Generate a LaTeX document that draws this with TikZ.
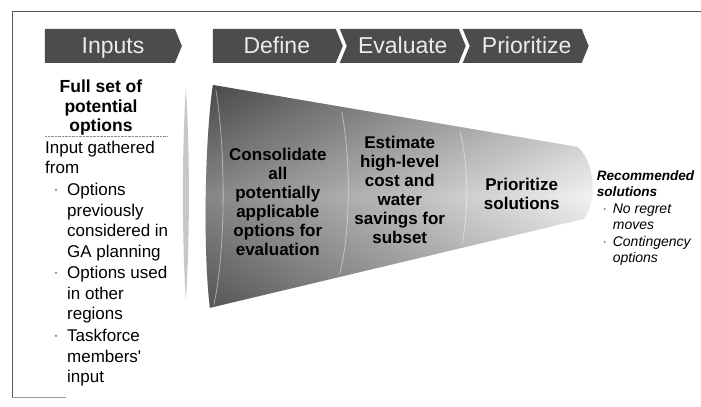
\documentclass[tikz,border=0pt]{standalone}
\usepackage{fontspec}
\setmainfont{Liberation Sans}
\begin{document}
\begin{tikzpicture}[x=1pt, y=-1pt,
  stage/.style={fill=black!70},
  stagetext/.style={text=black!8, font=\fontsize{23}{26}\selectfont, inner sep=0pt, anchor=base},
  title/.style={font=\fontsize{17.5}{19.5}\selectfont\bfseries, align=center, inner sep=0pt},
  body/.style={font=\fontsize{17}{20.5}\selectfont, align=left, inner sep=0pt, anchor=base west},
  dot/.style={circle, fill=black!45, inner sep=0pt, minimum size=2.6pt},
  funneltext/.style={font=\fontsize{17}{19}\selectfont\bfseries, align=center, inner sep=0pt},
  result/.style={font=\fontsize{14}{16.5}\selectfont\itshape, align=left, inner sep=0pt, anchor=base west},
  rim/.style={draw=white, opacity=0.45, line width=0.8pt}]
  \fill[white] (0,0) rectangle (701,407);
  % page frame
  \draw[black!65, line width=0.8pt] (701,11) -- (12,11) -- (12,398);
  \draw[black!40, line width=0.8pt] (12,398) -- (66,398);
  % stage chevrons
  \fill[stage] (45,29) -- (175,29) -- (182,46) -- (175,63) -- (45,63) -- cycle;
  \fill[stage] (213,29) -- (336,29) -- (343,46) -- (336,63) -- (213,63) -- cycle;
  \fill[stage] (340,29) -- (459,29) -- (466,46) -- (459,63) -- (340,63) -- (347,46) -- cycle;
  \fill[stage] (463,29) -- (582,29) -- (589,46) -- (582,63) -- (463,63) -- (470,46) -- cycle;
  \node[stagetext] (inputs) at (113,54) {Inputs};
  \node[stagetext] (define) at (277,54) {Define};
  \node[stagetext] (evaluate) at (403,54) {Evaluate};
  \node[stagetext] (prioritize) at (527,54) {Prioritize};
  % input column (base = last line)
  \node[title] (fullset) at (101,108) {Full set of\\potential\\options};
  \draw[black!45, densely dotted] (45,136) -- (167,136);
  \node[body] (gathered) at (45,174) {Input gathered\\from};
  \node[body] (prev) at (67,257.5) {Options\\previously\\considered in\\GA planning};
  \node[body] (other) at (67,320) {Options used\\in other\\regions};
  \node[body] (task) at (67,383) {Taskforce\\members\textquotesingle\\input};
  \foreach \n/\y in {bprev/190, bother/273, btask/336}
    \node[dot] (\n) at (56,\y) {};
  % separator sliver
  \fill[black!22] (186,88) .. controls (190,150) and (190,240) .. (186,300)
    .. controls (182,240) and (182,150) .. (186,88);
  % funnel
  \begin{scope}
    \clip (213,85) -- (578,147) .. controls (597,165) and (597,203) .. (584,219)
      -- (210,308) .. controls (203,250) and (205,140) .. (213,85) -- cycle;
    \shade[left color=black!64, right color=black!6] (200,80) rectangle (600,312);
    \shade[top color=black, bottom color=black!80, middle color=white, opacity=0.25] (200,80) rectangle (600,312);
  \end{scope}
  \draw[rim] (216,90) .. controls (226,150) and (226,250) .. (214,305);
  \draw[rim] (342,112) .. controls (351,160) and (351,230) .. (340,274);
  \draw[rim] (460,131) .. controls (469,165) and (469,215) .. (462,245);
  \node[funneltext] (consolidate) at (278,202) {Consolidate\\all\\potentially\\applicable\\options for\\evaluation};
  \node[funneltext] (estimate) at (400,190) {Estimate\\high-level\\cost and\\water\\savings for\\subset};
  \node[funneltext] (solutions) at (522,194) {Prioritize\\solutions};
  % outcome
  \node[result, font=\fontsize{13.6}{16.5}\selectfont\bfseries\itshape] (recommended) at (597,197) {Recommended\\solutions};
  \node[result] (noregret) at (613,230) {No regret\\moves};
  \node[result] (contingency) at (613,263) {Contingency\\options};
  \foreach \n/\y in {bnoregret/209, bcontingency/242}
    \node[dot, minimum size=2.2pt] (\n) at (605,\y) {};
\end{tikzpicture}
\end{document}
